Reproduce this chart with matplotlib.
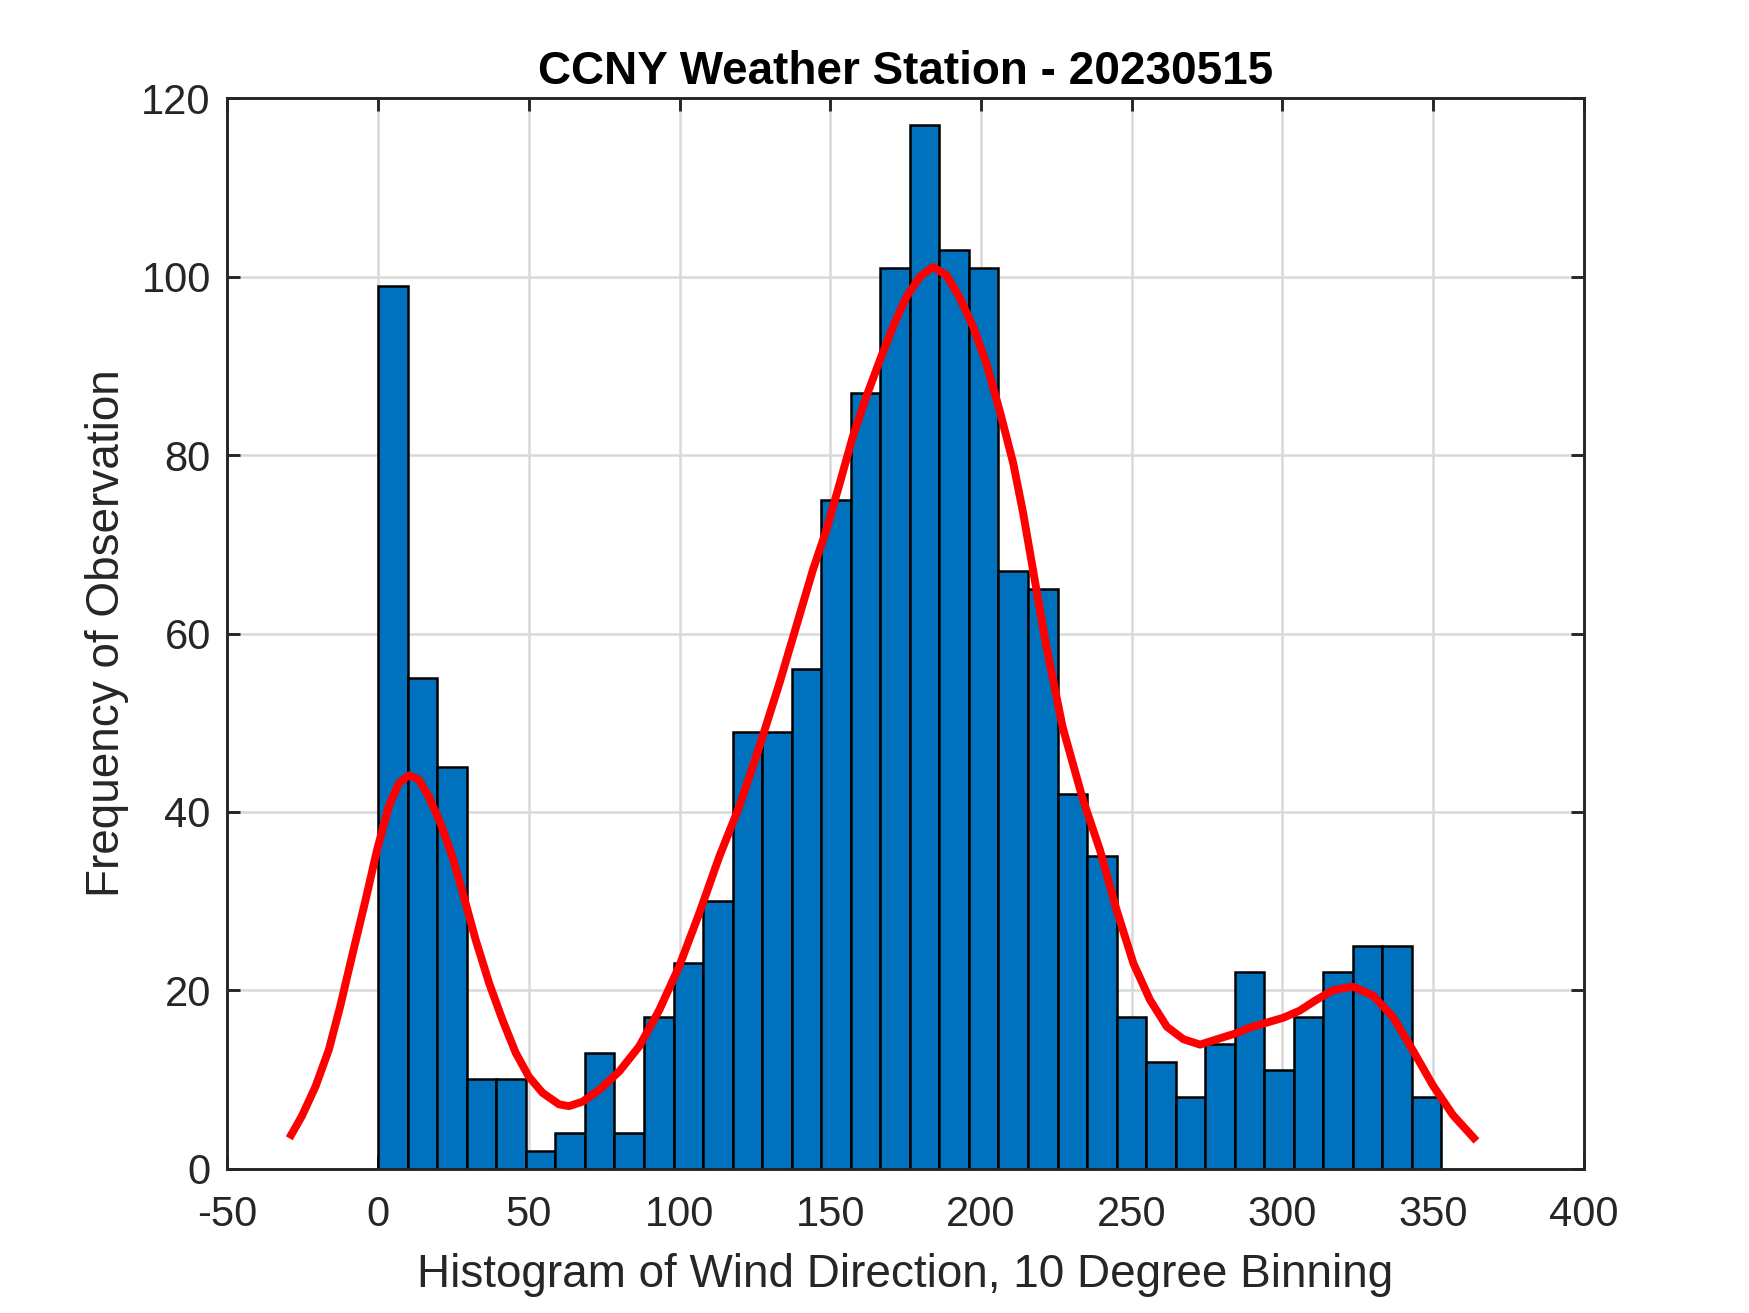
import numpy as np
import matplotlib
matplotlib.use('Agg')
import matplotlib.pyplot as plt

plt.rcParams['font.family'] = ['Liberation Sans', 'DejaVu Sans']
plt.rcParams['axes.unicode_minus'] = False

# histogram: 36 bins from 0 to ~352.8 deg
bin_start = 0.0
bin_width = 9.8
counts = [99, 55, 45, 10, 10, 2, 4, 13, 4, 17, 23, 30,
          49, 49, 56, 75, 87, 101, 117, 103, 101, 67, 65, 42,
          35, 17, 12, 8, 14, 22, 11, 17, 22, 25, 25, 8]

# red density curve
curve_x = [-29.5, -25.3, -20.8, -16.4, -12.6, -8.7, -4.2, -0.4, 3.5, 6.8,
           10.2, 13.5, 16.8, 20.7, 24.6, 28.4, 32.3, 36.8, 41.2, 45.6,
           50.0, 54.5, 60.0, 63.3, 67.8, 73.3, 80.0, 86.6, 93.3, 99.9,
           106.5, 113.2, 119.8, 126.0, 133.2, 144.3, 148.7, 153.1, 157.5, 161.9,
           166.4, 170.8, 175.2, 179.7, 184.1, 188.5, 192.9, 197.4, 201.8, 206.2,
           210.7, 214.0, 221.6, 227.1, 233.9, 239.5, 245.0, 250.6, 256.1, 261.7,
           267.2, 272.7, 278.3, 284.9, 289.1, 300.2, 305.7, 311.2, 316.8, 323.4,
           330.1, 336.7, 343.4, 350.0, 356.6, 364.4]
curve_y = [3.4, 5.9, 9.2, 13.3, 18.2, 23.8, 30.1, 35.7, 40.6, 43.2,
           44.1, 43.6, 41.7, 38.7, 35.0, 30.5, 25.7, 20.8, 16.7, 13.0,
           10.3, 8.5, 7.2, 7.0, 7.5, 8.8, 10.9, 13.7, 17.8, 22.7,
           28.6, 35.0, 40.6, 46.8, 54.5, 67.2, 71.6, 76.8, 82.1, 86.5,
           90.6, 94.4, 97.7, 100.0, 101.1, 100.2, 97.7, 94.4, 90.3, 85.0,
           79.1, 73.5, 58.7, 49.5, 41.3, 35.7, 29.0, 23.0, 18.9, 15.9,
           14.5, 13.9, 14.5, 15.2, 15.8, 16.9, 17.7, 18.9, 20.0, 20.4,
           19.4, 17.0, 13.2, 9.3, 6.0, 3.1]

xticks = [-50, 0, 50, 100, 150, 200, 250, 300, 350, 400]
yticks = [0, 20, 40, 60, 80, 100, 120]

dark = '#262626'
left_edges = bin_start + bin_width * np.arange(len(counts))

fig = plt.figure(figsize=(5.8333, 4.3767), dpi=300)
ax = fig.add_axes([0.13, 0.11, 0.775, 0.815])

ax.bar(left_edges, counts, width=bin_width, align='edge',
       color='#0072BD', edgecolor='black', linewidth=0.6, zorder=2)
ax.plot(curve_x, curve_y, color='red', linewidth=1.9, zorder=3,
        solid_joinstyle='round', solid_capstyle='butt')

ax.set_xlim(-50, 400)
ax.set_ylim(0, 120)
ax.set_xticks(xticks)
ax.set_yticks(yticks)
ax.grid(True, color='#D9D9D9', linewidth=0.6, zorder=0)
ax.set_axisbelow(True)

for s in ax.spines.values():
    s.set_color(dark)
    s.set_linewidth(0.7)
    s.set_zorder(4)
ax.tick_params(direction='in', length=3.2, width=0.7, colors=dark,
               labelsize=10, top=True, right=True)
ax.tick_params(axis='x', pad=6.3)
ax.tick_params(axis='y', pad=4)

ax.set_title('CCNY Weather Station - 20230515', fontsize=11,
             fontweight='bold', color='black', pad=3.5)
ax.set_xlabel('Histogram of Wind Direction, 10 Degree Binning',
              fontsize=11, color=dark, labelpad=4.3)
ax.set_ylabel('Frequency of Observation', fontsize=11, color=dark,
              labelpad=3)

fig.savefig('out.png', dpi=300)
